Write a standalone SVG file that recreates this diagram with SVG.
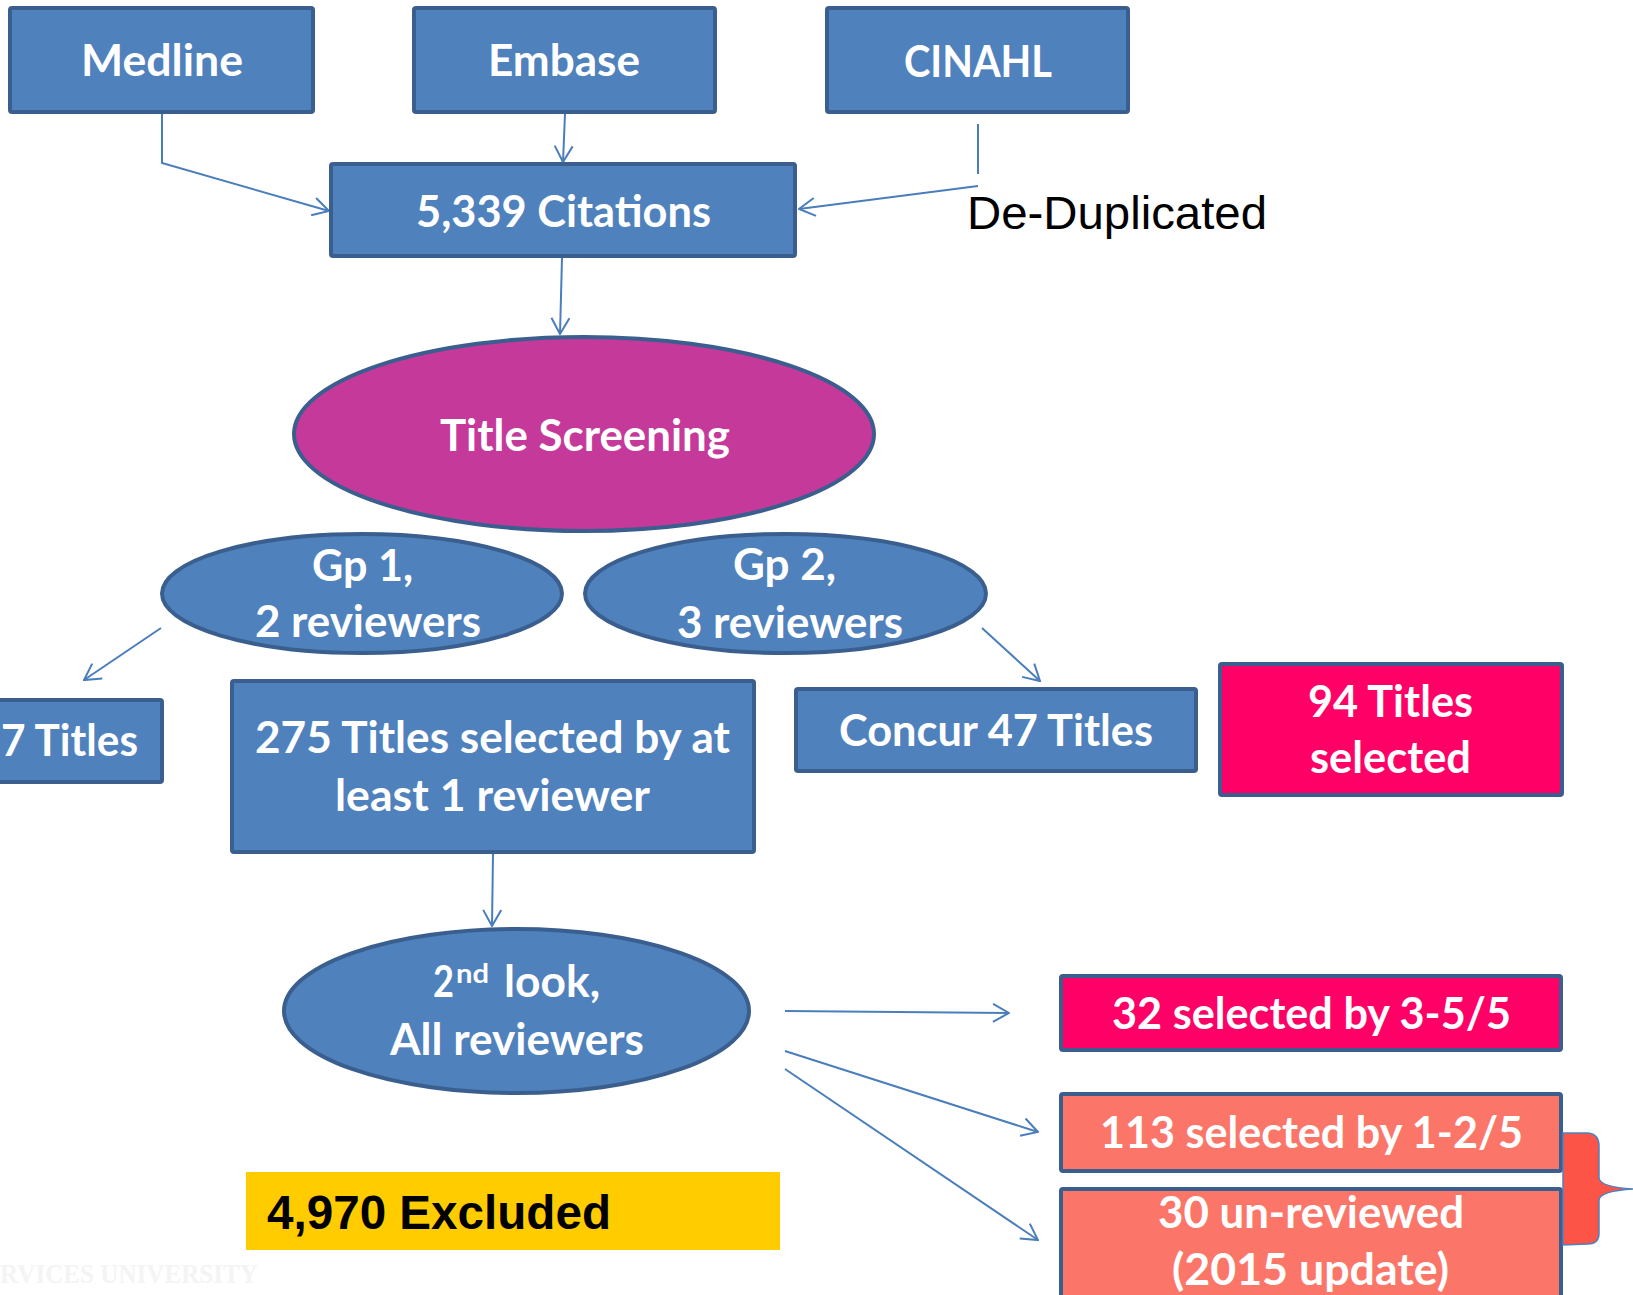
<svg xmlns="http://www.w3.org/2000/svg" width="1633" height="1295" viewBox="0 0 1633 1295">
<style>
.box{fill:#4f81bd;stroke:#3a5f8e;stroke-width:4}
.pink{fill:#ff0066;stroke:#3a5f8e;stroke-width:4}
.salmon{fill:#fb7668;stroke:#3a5f8e;stroke-width:4}
.mag{fill:#c5399a;stroke:#3a5f8e;stroke-width:4}
.t{font-family:Lato,"Open Sans","Noto Sans",sans-serif;font-weight:700;font-size:43px;fill:#ffffff}
.sup{font-family:Lato,"Open Sans","Noto Sans",sans-serif;font-weight:700;font-size:27px;fill:#ffffff}
.c{fill:none;stroke:#4a7ebb;stroke-width:2}
</style>
<defs>
<marker id="ah" viewBox="0 0 18 20" refX="17" refY="10" markerWidth="18" markerHeight="20" markerUnits="userSpaceOnUse" orient="auto">
<path d="M1,1 L17,10 L1,19" fill="none" stroke="#4a7ebb" stroke-width="2"/>
</marker>
</defs>
<rect width="1633" height="1295" fill="#ffffff"/>
<text x="0" y="1283" font-family="'Liberation Serif',serif" font-weight="700" font-size="27" fill="#f4f4f4" textLength="258" lengthAdjust="spacingAndGlyphs">RVICES UNIVERSITY</text>

<g id="connectors">
<polyline class="c" points="162,114 162,163 329,211" marker-end="url(#ah)"/>
<line class="c" x1="565" y1="114" x2="563" y2="162" marker-end="url(#ah)"/>
<line class="c" x1="978" y1="124" x2="978" y2="174"/>
<line class="c" x1="978" y1="186" x2="799" y2="209" marker-end="url(#ah)"/>
<line class="c" x1="562" y1="258" x2="560" y2="334" marker-end="url(#ah)"/>
<line class="c" x1="161" y1="628" x2="84" y2="680" marker-end="url(#ah)"/>
<line class="c" x1="982" y1="628" x2="1040" y2="681" marker-end="url(#ah)"/>
<line class="c" x1="493" y1="854" x2="492" y2="926" marker-end="url(#ah)"/>
<line class="c" x1="785" y1="1011" x2="1009" y2="1013" marker-end="url(#ah)"/>
<line class="c" x1="785" y1="1051" x2="1038" y2="1132" marker-end="url(#ah)"/>
<line class="c" x1="785" y1="1069" x2="1038" y2="1240" marker-end="url(#ah)"/>
</g>

<g id="medline"><rect class="box" x="10" y="8" width="303" height="104" rx="2"/><text class="t" x="81" y="76" textLength="162" lengthAdjust="spacingAndGlyphs">Medline</text></g>
<g id="embase"><rect class="box" x="414" y="8" width="301" height="104" rx="2"/><text class="t" x="488" y="76" textLength="152" lengthAdjust="spacingAndGlyphs">Embase</text></g>
<g id="cinahl"><rect class="box" x="827" y="8" width="301" height="104" rx="2"/><text class="t" x="904" y="77" textLength="148" lengthAdjust="spacingAndGlyphs">CINAHL</text></g>
<g id="citations"><rect class="box" x="331" y="164" width="464" height="92" rx="2"/><text class="t" x="416" y="227" textLength="295" lengthAdjust="spacingAndGlyphs">5,339 Citations</text></g>
<g id="dedup"><text x="967" y="229" font-family="'Liberation Sans',Arial,sans-serif" font-size="47" fill="#000000" textLength="300" lengthAdjust="spacingAndGlyphs">De-Duplicated</text></g>

<g id="title-screening"><ellipse class="mag" cx="584" cy="434" rx="290" ry="97"/><text class="t" x="440" y="451" textLength="290" lengthAdjust="spacingAndGlyphs">Title Screening</text></g>
<g id="gp1"><ellipse class="box" cx="362" cy="593.5" rx="200" ry="59.5"/><text class="t" x="312" y="581" textLength="101" lengthAdjust="spacingAndGlyphs">Gp 1,</text><text class="t" x="255" y="637" textLength="226" lengthAdjust="spacingAndGlyphs">2 reviewers</text></g>
<g id="gp2"><ellipse class="box" cx="785.5" cy="593.5" rx="200.5" ry="59.5"/><text class="t" x="733" y="580" textLength="103" lengthAdjust="spacingAndGlyphs">Gp 2,</text><text class="t" x="677" y="638" textLength="226" lengthAdjust="spacingAndGlyphs">3 reviewers</text></g>

<g id="titles7"><rect class="box" x="-20" y="700" width="182" height="82" rx="2"/><text class="t" x="1" y="756" textLength="137" lengthAdjust="spacingAndGlyphs">7 Titles</text></g>
<g id="titles275"><rect class="box" x="232" y="681" width="522" height="171" rx="2"/><text class="t" x="255" y="753" textLength="475" lengthAdjust="spacingAndGlyphs">275 Titles selected by at</text><text class="t" x="335" y="811" textLength="315" lengthAdjust="spacingAndGlyphs">least 1 reviewer</text></g>
<g id="concur"><rect class="box" x="796" y="689" width="400" height="82" rx="2"/><text class="t" x="839" y="746" textLength="314" lengthAdjust="spacingAndGlyphs">Concur 47 Titles</text></g>
<g id="titles94"><rect class="pink" x="1220" y="664" width="342" height="131" rx="2"/><text class="t" x="1308" y="717" textLength="165" lengthAdjust="spacingAndGlyphs">94 Titles</text><text class="t" x="1310" y="773" textLength="161" lengthAdjust="spacingAndGlyphs">selected</text></g>

<g id="second-look"><ellipse class="box" cx="516.5" cy="1011" rx="232.5" ry="82"/>
<text class="t" x="433" y="997" textLength="21" lengthAdjust="spacingAndGlyphs">2</text>
<text class="sup" x="456" y="983" textLength="33" lengthAdjust="spacingAndGlyphs">nd</text>
<text class="t" x="504" y="997" textLength="96" lengthAdjust="spacingAndGlyphs">look,</text>
<text class="t" x="390" y="1055" textLength="254" lengthAdjust="spacingAndGlyphs">All reviewers</text></g>

<g id="excluded"><rect x="246" y="1172" width="534" height="78" fill="#ffcc00"/><text x="267" y="1229" font-family="'Liberation Sans',Arial,sans-serif" font-weight="700" font-size="47.5" fill="#000000" textLength="344" lengthAdjust="spacingAndGlyphs">4,970 Excluded</text></g>

<g id="sel32"><rect class="pink" x="1061" y="976" width="500" height="74" rx="2"/><text class="t" x="1112" y="1029" textLength="399" lengthAdjust="spacingAndGlyphs">32 selected by 3-5/5</text></g>
<g id="sel113"><rect class="salmon" x="1061" y="1094" width="500" height="77" rx="2"/><text class="t" x="1100" y="1148" textLength="423" lengthAdjust="spacingAndGlyphs">113 selected by 1-2/5</text></g>
<g id="unreviewed30"><rect class="salmon" x="1061" y="1189" width="500" height="130" rx="2"/><text class="t" x="1158" y="1228" textLength="306" lengthAdjust="spacingAndGlyphs">30 un-reviewed</text><text class="t" x="1172" y="1285" textLength="277" lengthAdjust="spacingAndGlyphs">(2015 update)</text></g>

<g id="brace"><path d="M1563,1133 L1588,1133 Q1599,1134 1599,1146 L1599,1178 Q1600,1187 1633,1189 Q1600,1191 1599,1200 L1599,1233 Q1599,1244 1588,1244 L1563,1245 Z" fill="#fc5548" stroke="#4f81bd" stroke-width="1.5"/></g>
</svg>
